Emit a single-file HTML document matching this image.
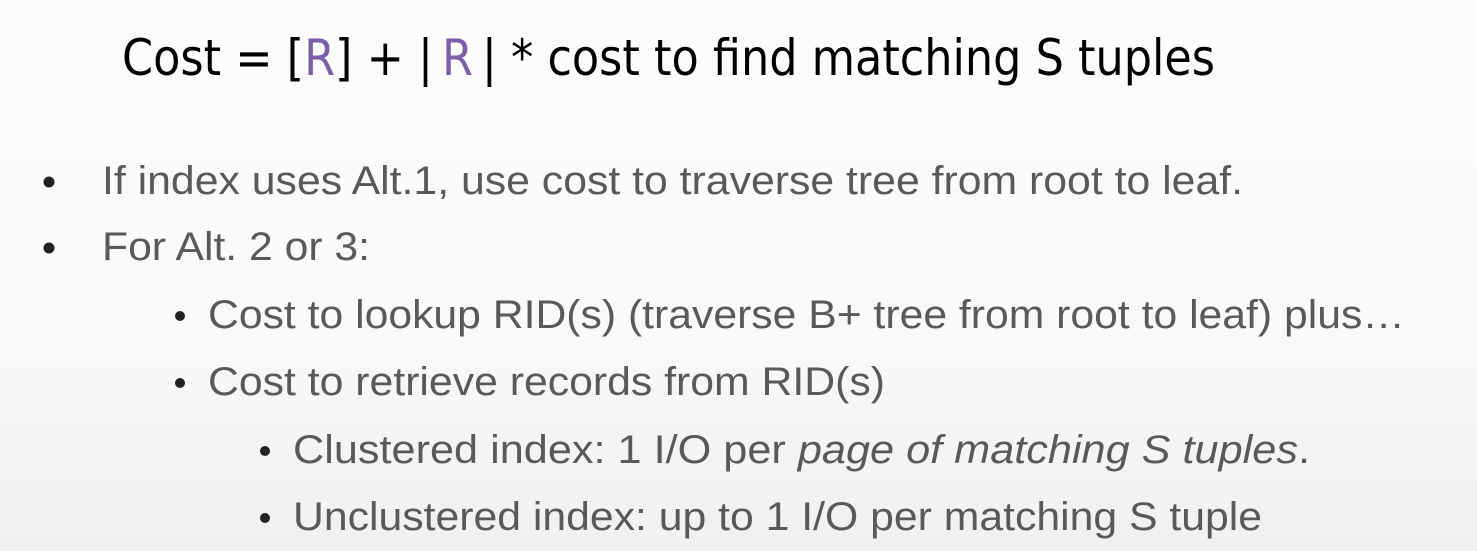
<!DOCTYPE html>
<html><head><meta charset="utf-8"><style>
html,body{margin:0;padding:0}
body{width:1477px;height:551px;overflow:hidden;background:linear-gradient(#fcfcfc,#f9f9f9 60%,#f0f0f0)}
svg{display:block}
.t{font-family:"DejaVu Sans","Liberation Sans",sans-serif;font-size:50px;fill:#000}
.b{font-family:"Liberation Sans",sans-serif;font-size:40px;fill:#595959}
.d{fill:#222}
</style></head><body>
<svg width="1477" height="551">
<text class="t" x="122" y="75" textLength="1093" lengthAdjust="spacingAndGlyphs">Cost = [<tspan fill="#7a5fa8">R</tspan>] + |&#8201;<tspan fill="#7a5fa8">R</tspan>&#8201;| * cost to find matching S tuples</text>
<g>
<circle class="d" cx="49" cy="182" r="5.5"/>
<text class="b" x="102" y="194" textLength="1141" lengthAdjust="spacingAndGlyphs">If index uses Alt.1, use cost to traverse tree from root to leaf.</text>
<circle class="d" cx="49" cy="248" r="5.5"/>
<text class="b" x="102" y="260" textLength="268" lengthAdjust="spacingAndGlyphs">For Alt. 2 or 3:</text>
<circle class="d" cx="180" cy="316" r="5"/>
<text class="b" x="208" y="328" textLength="1197" lengthAdjust="spacingAndGlyphs">Cost to lookup RID(s) (traverse B+ tree from root to leaf) plus…</text>
<circle class="d" cx="180" cy="383" r="5"/>
<text class="b" x="208" y="395" textLength="677" lengthAdjust="spacingAndGlyphs">Cost to retrieve records from RID(s)</text>
<circle class="d" cx="265" cy="451" r="5"/>
<text class="b" x="293" y="463" textLength="1017" lengthAdjust="spacingAndGlyphs">Clustered index:  1 I/O per <tspan font-style="italic">page of matching S tuples</tspan>.</text>
<circle class="d" cx="265" cy="518" r="5"/>
<text class="b" x="293" y="530" textLength="969" lengthAdjust="spacingAndGlyphs">Unclustered index: up to 1 I/O per matching S tuple</text>
</g>
</svg>
</body></html>
